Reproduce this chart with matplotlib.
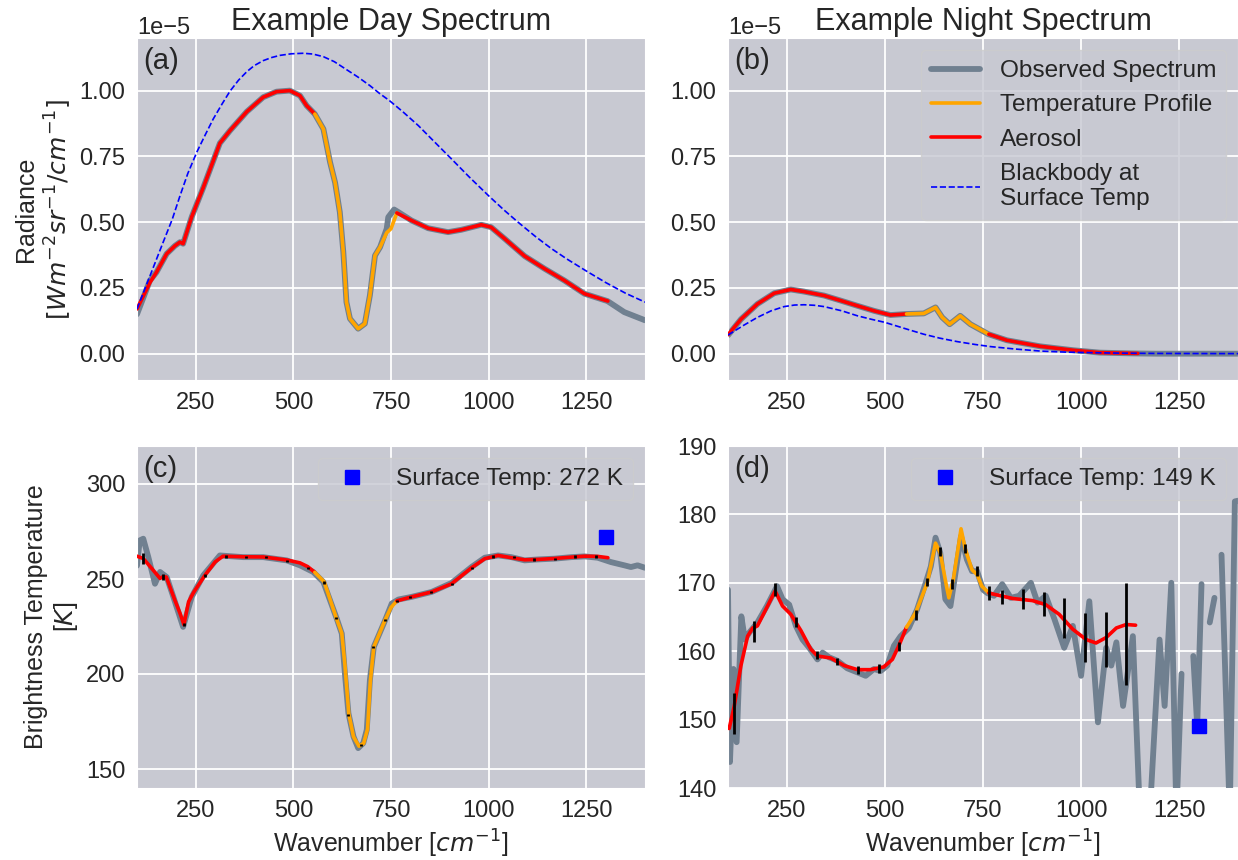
import numpy as np
import matplotlib
matplotlib.use("Agg")
import matplotlib.pyplot as plt
import seaborn as sns

# ---------------- data ----------------
# Panel (a): day radiance, in units of 1e-5 W m^-2 sr^-1 / cm^-1
day_obs_wn = [100, 133, 150, 176, 197, 210, 218, 227, 240, 270, 312, 338, 381, 423, 457, 491,
              517, 534, 555, 577, 594, 607, 619, 628, 636, 645, 666, 683, 696, 709, 722, 739,
              743, 758, 769, 803, 845, 896, 930, 981, 1006, 1041, 1092, 1143, 1194, 1245,
              1304, 1347, 1400]
day_obs_rad = [0.15, 0.278, 0.31, 0.38, 0.41, 0.424, 0.418, 0.46, 0.52, 0.633, 0.80, 0.848,
               0.92, 0.975, 0.996, 1.00, 0.981, 0.943, 0.911, 0.854, 0.728, 0.65, 0.538,
               0.386, 0.196, 0.133, 0.095, 0.114, 0.222, 0.373, 0.405, 0.475, 0.519, 0.548,
               0.538, 0.506, 0.477, 0.462, 0.471, 0.49, 0.481, 0.437, 0.371, 0.323, 0.278,
               0.228, 0.2, 0.158, 0.127]
day_fit_wn = [100, 133, 150, 176, 197, 210, 218, 227, 240, 270, 312, 338, 381, 423, 457, 491,
              517, 534, 555, 577, 594, 607, 619, 628, 636, 645, 666, 683, 696, 709, 722, 739,
              750, 765, 803, 845, 896, 930, 981, 1006, 1041, 1092, 1143, 1194, 1245, 1305]
day_fit_rad = [0.17, 0.27, 0.31, 0.38, 0.41, 0.424, 0.418, 0.46, 0.52, 0.633, 0.80, 0.848,
               0.92, 0.975, 0.996, 1.00, 0.981, 0.943, 0.911, 0.854, 0.728, 0.65, 0.538,
               0.386, 0.196, 0.133, 0.095, 0.114, 0.222, 0.373, 0.405, 0.46, 0.475, 0.535,
               0.506, 0.477, 0.462, 0.471, 0.49, 0.481, 0.437, 0.371, 0.323, 0.278, 0.228, 0.2]
day_bb_wn = [100, 133, 167, 190, 210, 230, 253, 275, 295, 318, 338, 360, 381, 400, 423, 445,
             466, 495, 526, 550, 577, 605, 636, 665, 696, 720, 746, 780, 820, 860, 905, 950,
             1000, 1040, 1075, 1120, 1160, 1200, 1249, 1300, 1350, 1400]
day_bb_rad = [0.17, 0.295, 0.424, 0.51, 0.60, 0.685, 0.766, 0.833, 0.892, 0.95, 0.998, 1.04,
              1.072, 1.095, 1.114, 1.126, 1.134, 1.14, 1.142, 1.139, 1.129, 1.11, 1.08, 1.052,
              1.019, 0.99, 0.962, 0.92, 0.867, 0.807, 0.74, 0.672, 0.60, 0.545, 0.50, 0.445,
              0.40, 0.36, 0.315, 0.27, 0.23, 0.196]

# Panel (b): night radiance, in units of 1e-5
night_obs_wn = [100, 133, 175, 218, 260, 294, 345, 387, 430, 472, 514, 557, 599, 629, 646,
                665, 692, 718, 764, 811, 896, 981, 1048, 1133, 1192, 1277, 1400]
night_obs_rad = [0.07, 0.131, 0.189, 0.23, 0.244, 0.236, 0.221, 0.202, 0.182, 0.163, 0.147,
                 0.151, 0.153, 0.176, 0.138, 0.112, 0.144, 0.112, 0.074, 0.051, 0.028, 0.013,
                 0.004, 0.001, 0.0, 0.0, 0.0]
night_fit_wn = [100, 133, 175, 218, 260, 294, 345, 387, 430, 472, 514, 555, 599, 629, 646,
                665, 692, 718, 765, 811, 896, 981, 1048, 1145]
night_fit_rad = [0.072, 0.131, 0.189, 0.23, 0.244, 0.236, 0.221, 0.202, 0.182, 0.163, 0.147,
                 0.151, 0.153, 0.176, 0.138, 0.112, 0.144, 0.112, 0.074, 0.051, 0.028, 0.013,
                 0.004, 0.001]
night_bb_wn = [100, 140, 175, 210, 243, 270, 294, 320, 345, 390, 430, 465, 500, 550, 599,
               640, 684, 730, 769, 830, 896, 960, 1023, 1100, 1192, 1300, 1400]
night_bb_rad = [0.071, 0.108, 0.138, 0.163, 0.179, 0.185, 0.186, 0.184, 0.179, 0.163, 0.144,
                0.131, 0.119, 0.096, 0.074, 0.059, 0.046, 0.035, 0.027, 0.018, 0.010, 0.006,
                0.004, 0.002, 0.001, 0.0006, 0.0003]

# Panel (c): day brightness temperature [K]
day_bt_wn = [100, 107, 116, 129, 146, 159, 176, 193, 218, 240, 270, 312, 372, 423, 483, 517,
             551, 577, 611, 624, 632, 641, 654, 666, 679, 688, 696, 706, 717, 735, 752, 769,
             803, 854, 905, 956, 990, 1024, 1058, 1092, 1126, 1168, 1211, 1245, 1279, 1313,
             1347, 1364, 1381, 1400]
day_bt = [257, 270.3, 271.2, 261.5, 247.5, 253.7, 251, 240.6, 224.8, 240.6, 252, 262.4, 261.5,
          261.5, 259.8, 257.2, 253.7, 248.4, 229.2, 221.3, 200.3, 179.4, 167.1, 161, 163.6,
          170.6, 196.9, 214.3, 219.6, 228.3, 237.1, 239.2, 240.6, 243.2, 247.9, 256.3, 261.2,
          262.4, 261.5, 259.8, 260.3, 260.7, 261.5, 261.9, 261.2, 258.9, 257.2, 256.3, 257.2,
          255.9]
day_bt_fit_wn = [100, 116, 140, 159, 167, 175, 197, 210, 220, 232, 245, 274, 300, 320, 372,
                 423, 483, 517, 537, 555, 579, 610, 624, 632, 642, 654, 668, 680, 690, 697,
                 706, 717, 735, 750, 765, 803, 854, 905, 956, 990, 1024, 1058, 1092, 1126,
                 1168, 1211, 1245, 1279, 1305]
day_bt_fit = [262, 260.8, 255, 250.3, 251.3, 251, 238.8, 232, 226, 238, 243, 252, 259, 262,
              261.7, 261.6, 260, 258.5, 256.5, 253.5, 248.5, 229.5, 221.5, 205, 179, 167, 162,
              163.5, 171, 196, 214.3, 219.6, 228.5, 235, 238.5, 240.6, 243.2, 247.5, 255.9,
              260.7, 262.4, 261.2, 260.1, 260.3, 260.8, 261.5, 262, 261.9, 261.2]
day_err_wn = [116, 167, 220, 274, 327, 379, 431, 484, 537, 579, 608, 641, 672, 703, 735, 765,
              799, 853, 906, 957, 1011, 1064, 1115, 1170, 1222, 1275]
day_err_t = [260.8, 251.0, 226.0, 251.9, 261.9, 261.6, 261.4, 259.6, 255.9, 248.1, 229.5,
             178.5, 162.8, 214.3, 228.3, 238.3, 240.6, 243.2, 247.5, 255.9, 261.9, 261.5,
             260.3, 260.7, 261.9, 261.9]
day_err = [2.8, 1.4, 0.8, 0.6, 0.6, 0.6, 0.6, 0.6, 0.6, 0.6, 0.6, 0.6, 0.6, 0.6, 0.6, 0.6,
           0.6, 0.6, 0.6, 0.6, 0.6, 0.6, 0.6, 0.6, 0.6, 0.6]
day_surf_wn = 1300
day_surf_t = 272

# Panel (d): night brightness temperature [K]  (nan = gap in the data)
nan = np.nan
night_bt_wn = [100, 105, 114, 122, 134, 143, 154, 175, 199, 225, 239, 256, 273, 290, 307, 328,
               341, 358, 379, 404, 430, 451, 472, 489, 506, 523, 540, 561, 582, 604, 617, 629,
               641, 654, 667, 680, 694, 709, 722, 735, 750, 761, 778, 799, 821, 842, 872, 889,
               910, 932, 957, 979, 1000, 1021, 1043, 1064, 1077, 1090, 1107, 1132, 1150, 1175,
               1200, 1213, 1230, 1243, 1256, 1270, 1286, 1296, 1307, 1318, 1328, 1340, 1350,
               1358, 1379, 1392, 1400]
night_bt = [169, 143.8, 157.4, 146.7, 165.1, 161.7, 162.7, 164.2, 166.6, 169.5, 167.6, 166.8,
            163.7, 161.7, 160.5, 158.8, 159.8, 159.1, 158.6, 157.5, 156.9, 156.4, 157.4, 157.1,
            157.9, 160.8, 162.2, 163.4, 166.1, 170, 172.4, 176.6, 174.4, 167.6, 166.6, 171.5,
            176.8, 173.4, 171.7, 171.7, 169, 168.5, 168.1, 169.8, 167.8, 168.1, 170, 167.1,
            168.1, 164.7, 160.5, 163.7, 156.4, 167.3, 149.6, 160.5, 157.9, 161.3, 152, 162.2,
            136, 136, 161.7, 152, 170, 136, 156.7, nan, 159.3, 149.1, 169.8, nan, 164.2, 167.8,
            nan, 174.1, 136, 181.9, 182]
night_bt_fit_wn = [103, 116, 133, 150, 163, 175, 192, 220, 239, 260, 286, 311, 328, 362, 396,
                   430, 463, 497, 519, 537, 555, 578, 608, 629, 641, 657, 663, 675, 694, 705,
                   722, 735, 747, 765, 826, 876, 910, 944, 979, 1013, 1038, 1064, 1090, 1115,
                   1139]
night_bt_fit = [148.7, 152, 157.9, 162.2, 163.4, 163.7, 165.6, 168.8, 166.6, 165.4, 163,
                160.3, 159.3, 159, 157.9, 157.3, 157.3, 157.7, 158.8, 161, 163.5, 165.6, 170,
                175.8, 174.4, 169.5, 167.8, 170.7, 177.9, 174.9, 171.9, 171.2, 169.5, 168.5,
                167.7, 167.4, 166.8, 165.4, 163.2, 161.7, 161.2, 162, 163.4, 163.9, 163.8]
night_err_wn = [116, 167, 220, 274, 327, 379, 431, 484, 537, 579, 608, 641, 672, 703, 735,
                765, 799, 853, 906, 957, 1011, 1064, 1115]
night_err_t = [150.9, 162.9, 169.0, 164.3, 159.5, 158.5, 157.3, 157.5, 160.7, 165.3, 170.1,
               174.6, 169.8, 175.0, 171.7, 168.5, 167.9, 167.6, 166.9, 164.9, 162.0, 161.7,
               162.5]
night_err = [3.0, 1.5, 1.0, 0.7, 0.6, 0.55, 0.6, 0.65, 0.7, 0.7, 0.6, 0.7, 0.7, 0.7, 0.7, 1.0,
             1.05, 1.45, 1.75, 2.9, 3.55, 4.0, 7.4]
night_surf_wn = 1300
night_surf_t = 149

temp_band = (555, 765)          # wavenumber range of the temperature-profile fit
x_ticks = [250, 500, 750, 1000, 1250]
rad_ticks = [0.0, 0.25, 0.5, 0.75, 1.0]
RAD_SCALE = 1e-5

# ---------------- style ----------------
BG = "#C8C9D2"
sns.set_style("darkgrid", {"axes.facecolor": BG, "grid.color": "white"})
plt.rcParams["font.family"] = ["Liberation Sans", "DejaVu Sans"]
plt.rcParams["font.size"] = 17
plt.rcParams["grid.linewidth"] = 1.3
TXT = ".15"
LEG_FS = 17.6

OBS_C = "slategray"
W = 1238
H = 860
fig = plt.figure(figsize=(W / 100, H / 100), dpi=100)


def pos(l, t, r, b):
    return [l / W, 1 - b / H, (r - l) / W, (b - t) / H]


ax_a = fig.add_axes(pos(137, 38, 645, 380))
ax_b = fig.add_axes(pos(728, 38, 1238, 380))
ax_c = fig.add_axes(pos(137, 446, 645, 788))
ax_d = fig.add_axes(pos(728, 446, 1238, 788))


def draw_fit(ax, wn, vals, scale=1.0, lw=2.6):
    wn = np.asarray(wn, float)
    vals = np.asarray(vals, float) * scale
    lo, hi = temp_band
    low = wn <= lo
    mid = (wn >= lo) & (wn <= hi)
    high = wn >= hi
    ax.plot(wn[low], vals[low], color="red", lw=lw, zorder=3)
    ax.plot(wn[mid], vals[mid], color="orange", lw=lw, zorder=3)
    ax.plot(wn[high], vals[high], color="red", lw=lw, zorder=3)


def spectrum_panel(ax, obs_wn, obs, fit_wn, fit, bb_wn, bb, legend=False):
    s = RAD_SCALE
    ax.plot(obs_wn, np.asarray(obs) * s, color=OBS_C, lw=4.2, zorder=2)
    draw_fit(ax, fit_wn, fit, s)
    ax.plot(bb_wn, np.asarray(bb) * s, color="blue", ls="--", lw=1.2, zorder=4)
    ax.set_xlim(100, 1400)
    ax.set_ylim(-0.1 * s, 1.2 * s)
    ax.set_xticks(x_ticks)
    ax.set_yticks(np.asarray(rad_ticks) * s)
    ax.yaxis.get_offset_text().set_fontsize(17)
    ax.yaxis.get_offset_text().set_color(TXT)
    if legend:
        h = [plt.Line2D([], [], color=OBS_C, lw=4.2),
             plt.Line2D([], [], color="orange", lw=2.6),
             plt.Line2D([], [], color="red", lw=2.6),
             plt.Line2D([], [], color="blue", ls="--", lw=1.2)]
        lab = ["Observed Spectrum", "Temperature Profile", "Aerosol",
               "Blackbody at\nSurface Temp"]
        ax.legend(h, lab, loc="upper right", fontsize=LEG_FS)


spectrum_panel(ax_a, day_obs_wn, day_obs_rad, day_fit_wn, day_fit_rad, day_bb_wn, day_bb_rad)
spectrum_panel(ax_b, night_obs_wn, night_obs_rad, night_fit_wn, night_fit_rad,
               night_bb_wn, night_bb_rad, legend=True)


def bt_panel(ax, obs_wn, obs, fit_wn, fit, e_wn, e_t, e_err, s_wn, s_t, ylim, yticks):
    ax.plot(obs_wn, obs, color=OBS_C, lw=4.2, zorder=2)
    draw_fit(ax, fit_wn, fit)
    ax.errorbar(e_wn, e_t, yerr=e_err, fmt="none", ecolor="black", elinewidth=2,
                capsize=0, zorder=5)
    ax.plot([s_wn], [s_t], "s", color="blue", markersize=10.5, zorder=6,
            label=f"Surface Temp: {s_t} K")
    ax.set_xlim(100, 1400)
    ax.set_ylim(*ylim)
    ax.set_xticks(x_ticks)
    ax.set_yticks(yticks)
    ax.legend(loc="upper right", fontsize=LEG_FS)
    ax.set_xlabel("Wavenumber [$cm^{-1}$]", fontsize=18, color=TXT)


bt_panel(ax_c, day_bt_wn, day_bt, day_bt_fit_wn, day_bt_fit, day_err_wn, day_err_t, day_err,
         day_surf_wn, day_surf_t, (140, 320), [150, 200, 250, 300])
bt_panel(ax_d, night_bt_wn, night_bt, night_bt_fit_wn, night_bt_fit, night_err_wn,
         night_err_t, night_err, night_surf_wn, night_surf_t, (140, 190),
         [140, 150, 160, 170, 180, 190])

for ax in (ax_a, ax_b, ax_c, ax_d):
    ax.tick_params(labelsize=17, colors=TXT, pad=5)

ax_a.set_title("Example Day Spectrum", fontsize=22, color=TXT)
ax_b.set_title("Example Night Spectrum", fontsize=22, color=TXT)
ax_a.set_ylabel("Radiance\n$[Wm^{-2}sr^{-1}/cm^{-1}]$", fontsize=18, color=TXT)
ax_c.set_ylabel("Brightness Temperature\n[$K$]", fontsize=18, color=TXT)

for ax, lab in zip((ax_a, ax_b, ax_c, ax_d), ("(a)", "(b)", "(c)", "(d)")):
    ax.text(0.012, 0.975, lab, transform=ax.transAxes, fontsize=21, va="top", ha="left",
            color=TXT, zorder=10)

fig.savefig("out.png", dpi=100)
